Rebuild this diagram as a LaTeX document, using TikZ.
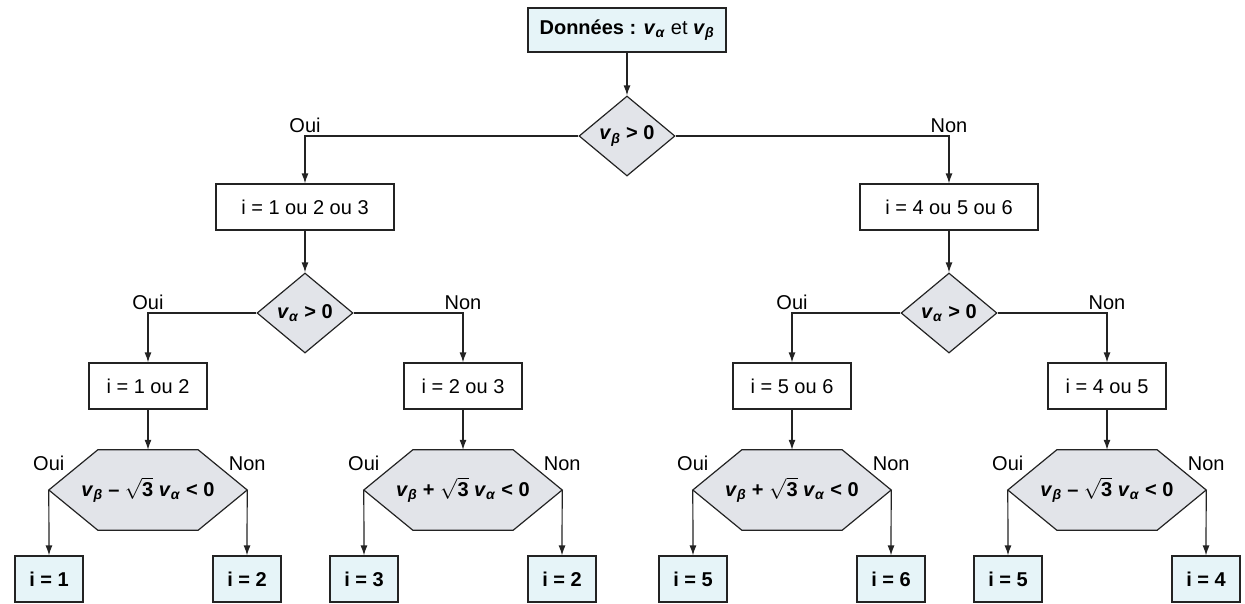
\documentclass[tikz,border=0pt]{standalone}
\usepackage{fontspec}
\setmainfont{Liberation Sans}
\usepackage{xcolor}
\usepackage{tikz}
\usetikzlibrary{positioning,arrows.meta,shapes.geometric,backgrounds}
\definecolor{colorleaf}{RGB}{230,244,248}
\definecolor{colortest}{RGB}{226,228,233}
\definecolor{colorline}{RGB}{35,35,35}

\newcommand{\valpha}{\textbf{\textit{v}}\textsubscript{\textbf{\textit{α}}}}
\newcommand{\vbeta}{\textbf{\textit{v}}\textsubscript{\textbf{\textit{β}}}}
\newcommand{\rtrois}{$\sqrt{\hbox{\bfseries 3}}$}

\begin{document}
\begin{tikzpicture}[
    x=1pt, y=-1pt,
    node distance = 40pt, on grid,
    font={\fontsize{20}{24}\selectfont},
    box/.style={rectangle,draw=colorline,line width=1.2pt,inner sep=2pt,minimum height=46pt},
    result/.style={box,fill=colorleaf,font={\fontsize{20}{24}\selectfont\bfseries},minimum width=68pt},
    test/.style={diamond,draw=colorline,line width=1.2pt,fill=colortest,inner sep=0pt,minimum width=96pt,minimum height=80pt},
    hextest/.style={rectangle,inner sep=0pt,minimum width=198pt,minimum height=80pt},
    hexline/.style={draw=colorline,line width=1.2pt,fill=colortest,line join=miter},
    link/.style={draw=colorline,line width=1.2pt,-{Latex[length=10pt,width=7pt]}},
    answer/.style={inner sep=3pt},
]
    \useasboundingbox (0,0) rectangle (1245,603);

    % Start and first test
    \node[box,fill=colorleaf,minimum width=198pt,minimum height=44pt] (donnees) at (627,30) {\textbf{Données :} \valpha{} et \vbeta};
    \node[test, below=106pt of donnees] (t0) {\vbeta{} \textbf{> 0}};

    % Second level
    \node[box,minimum width=178pt, below left=71pt and 322pt of t0] (b1) {i = 1 ou 2 ou 3};
    \node[box,minimum width=178pt, below right=71pt and 322pt of t0] (b2) {i = 4 ou 5 ou 6};
    \node[test, below=106pt of b1] (t1) {\valpha{} \textbf{> 0}};
    \node[test, below=106pt of b2] (t2) {\valpha{} \textbf{> 0}};

    % Third level
    \node[box,minimum width=118pt, below left=73pt and 157pt of t1] (c1) {i = 1 ou 2};
    \node[box,minimum width=118pt, below right=73pt and 158pt of t1] (c2) {i = 2 ou 3};
    \node[box,minimum width=118pt, below left=73pt and 157pt of t2] (c3) {i = 5 ou 6};
    \node[box,minimum width=118pt, below right=73pt and 158pt of t2] (c4) {i = 4 ou 5};

    \node[hextest, below=104pt of c1] (h1) {\vbeta{} \textbf{–} \rtrois{} \valpha{} \textbf{< 0}};
    \node[hextest, below=104pt of c2] (h2) {\vbeta{} \textbf{+} \rtrois{} \valpha{} \textbf{< 0}};
    \node[hextest, below=104pt of c3] (h3) {\vbeta{} \textbf{+} \rtrois{} \valpha{} \textbf{< 0}};
    \node[hextest, below=104pt of c4] (h4) {\vbeta{} \textbf{–} \rtrois{} \valpha{} \textbf{< 0}};

    % hexagon outlines behind the last tests
    \begin{scope}[on background layer]
        \foreach \h in {h1,h2,h3,h4}
            \path[hexline] (\h.west) -- ([xshift=49pt]\h.north west) -- ([xshift=-49pt]\h.north east)
                -- (\h.east) -- ([xshift=-49pt]\h.south east) -- ([xshift=49pt]\h.south west) -- cycle;
    \end{scope}

    % Results
    \node[result, below left=89pt and 99pt of h1] (r1) {i = 1};
    \node[result, below right=89pt and 99pt of h1] (r2) {i = 2};
    \node[result, below left=89pt and 99pt of h2] (r3) {i = 3};
    \node[result, below right=89pt and 99pt of h2] (r4) {i = 2};
    \node[result, below left=89pt and 99pt of h3] (r5) {i = 5};
    \node[result, below right=89pt and 99pt of h3] (r6) {i = 6};
    \node[result, below left=89pt and 99pt of h4] (r7) {i = 5};
    \node[result, below right=89pt and 99pt of h4] (r8) {i = 4};

    % Links
    \draw[link] (donnees.south) -- (t0.north);
    \draw[link] (t0.west) -| (b1.north) node[answer,above,pos=0.5] {Oui};
    \draw[link] (t0.east) -| (b2.north) node[answer,above,pos=0.5] {Non};

    \draw[link] (b1.south) -- (t1.north);
    \draw[link] (b2.south) -- (t2.north);
    \draw[link] (t1.west) -| (c1.north) node[answer,above,pos=0.5] {Oui};
    \draw[link] (t1.east) -| (c2.north) node[answer,above,pos=0.5] {Non};
    \draw[link] (t2.west) -| (c3.north) node[answer,above,pos=0.5] {Oui};
    \draw[link] (t2.east) -| (c4.north) node[answer,above,pos=0.5] {Non};

    \draw[link] (c1.south) -- (h1.north);
    \draw[link] (c2.south) -- (h2.north);
    \draw[link] (c3.south) -- (h3.north);
    \draw[link] (c4.south) -- (h4.north);

    \draw[link] (h1.west) node[answer,above=16pt] {Oui} -- (r1.north);
    \draw[link] (h1.east) node[answer,above=16pt] {Non} -- (r2.north);
    \draw[link] (h2.west) node[answer,above=16pt] {Oui} -- (r3.north);
    \draw[link] (h2.east) node[answer,above=16pt] {Non} -- (r4.north);
    \draw[link] (h3.west) node[answer,above=16pt] {Oui} -- (r5.north);
    \draw[link] (h3.east) node[answer,above=16pt] {Non} -- (r6.north);
    \draw[link] (h4.west) node[answer,above=16pt] {Oui} -- (r7.north);
    \draw[link] (h4.east) node[answer,above=16pt] {Non} -- (r8.north);

\end{tikzpicture}
\end{document}
